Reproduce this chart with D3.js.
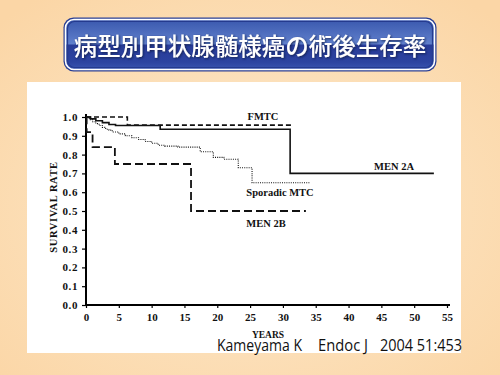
<!DOCTYPE html>
<html>
<head>
<meta charset="utf-8">
<script src="https://cdn.jsdelivr.net/npm/d3@7"></script>
<style>
  body { margin: 0; padding: 0; overflow: hidden; }
</style>
</head>
<body>
<div id="chart"></div>
<script>
var width = 500,
    height = 375;

var serif = "'Liberation Serif', 'DejaVu Serif', serif";

// survival curves, years / survival rate (step after)
var men2aYears = [0, 0.7, 1.5, 2.5, 3.5, 4.5, 11.3, 31.1, 53];
var men2aRate  = [1.0, 0.99, 0.98, 0.97, 0.96, 0.955, 0.935, 0.70, 0.70];

var fmtcYears = [0, 6.3, 31.5];
var fmtcRate  = [1.0, 0.957, 0.957];

var sporadicYears = [0, 0.5, 1, 1.5, 2, 2.5, 3, 3.5, 4, 5, 6, 7, 8, 9, 10, 11, 12, 14, 17.4, 19.4, 21, 23.2, 25.3, 34.1];
var sporadicRate  = [1.0, 0.985, 0.975, 0.965, 0.955, 0.945, 0.935, 0.93, 0.92, 0.91, 0.90, 0.89, 0.88, 0.87, 0.86, 0.85, 0.845, 0.84, 0.815, 0.785, 0.775, 0.73, 0.65, 0.65];

var men2bYears = [0, 0.1, 1.0, 4.4, 16, 33.5];
var men2bRate  = [1.0, 0.92, 0.84, 0.75, 0.50, 0.50];

var xTicks = [0, 5, 10, 15, 20, 25, 30, 35, 40, 45, 50, 55];
var yTicks = [0, 0.1, 0.2, 0.3, 0.4, 0.5, 0.6, 0.7, 0.8, 0.9, 1.0];

var title = "病型別甲状腺髄様癌の術後生存率";
var citation = ["Kameyama K", "Endoc J", "2004 51:453"];

var svg = d3.select("#chart").append("svg")
  .attr("width", width)
  .attr("height", height);

var defs = svg.append("defs");

var bg = defs.append("radialGradient")
  .attr("id", "bg")
  .attr("cx", "50%").attr("cy", "55%").attr("r", "70%");
bg.append("stop").attr("offset", "0%").attr("stop-color", "#fde9cc");
bg.append("stop").attr("offset", "100%").attr("stop-color", "#fbd6a6");

var boxGrad = defs.append("linearGradient")
  .attr("id", "box").attr("x1", 0).attr("y1", 0).attr("x2", 0).attr("y2", 1);
boxGrad.append("stop").attr("offset", "0%").attr("stop-color", "#3a58ae");
boxGrad.append("stop").attr("offset", "48%").attr("stop-color", "#5f7fcb");
boxGrad.append("stop").attr("offset", "52%").attr("stop-color", "#283c98");
boxGrad.append("stop").attr("offset", "85%").attr("stop-color", "#2c43a0");
boxGrad.append("stop").attr("offset", "100%").attr("stop-color", "#3a55b0");

var shadow = defs.append("filter").attr("id", "shadow")
  .attr("x", "-5%").attr("y", "-20%").attr("width", "110%").attr("height", "140%");
shadow.append("feDropShadow")
  .attr("dx", 1).attr("dy", 1).attr("stdDeviation", 0.8)
  .attr("flood-color", "#0a1540").attr("flood-opacity", 0.8);

svg.append("rect")
  .attr("width", width).attr("height", height)
  .attr("fill", "url(#bg)");

// title box
svg.append("rect")
  .attr("x", 63.5).attr("y", 17.5).attr("width", 373).attr("height", 54)
  .attr("rx", 10)
  .attr("fill", "#2b3f93");
svg.append("rect")
  .attr("x", 65.5).attr("y", 19.5).attr("width", 369).attr("height", 50)
  .attr("rx", 8.5)
  .attr("fill", "url(#box)")
  .attr("stroke", "#ffffff")
  .attr("stroke-width", 1.6);
svg.append("rect")
  .attr("x", 67.5).attr("y", 21.5).attr("width", 365).attr("height", 46)
  .attr("rx", 7)
  .attr("fill", "none")
  .attr("stroke", "#243a8e")
  .attr("stroke-width", 1.2);

svg.append("text")
  .attr("x", 250).attr("y", 55)
  .attr("text-anchor", "middle")
  .attr("font-family", "'Noto Sans CJK JP', 'Noto Sans CJK SC', sans-serif")
  .attr("font-weight", 500)
  .attr("font-size", 23.5)
  .attr("fill", "#ffffff")
  .attr("filter", "url(#shadow)")
  .text(title);

// white figure panel
svg.append("rect")
  .attr("x", 27).attr("y", 82).attr("width", 434).attr("height", 271)
  .attr("fill", "#ffffff");

var x = d3.scaleLinear().domain([0, 55]).range([86, 447]);
var y = d3.scaleLinear().domain([0, 1]).range([305, 117]);

var xAxis = svg.append("g")
  .attr("transform", "translate(0,305)")
  .call(d3.axisBottom(x).tickValues(xTicks).tickSize(3).tickSizeOuter(0).tickPadding(5));
xAxis.select(".domain").attr("d", "M86,0H450").attr("stroke-width", 2);

var yAxis = svg.append("g")
  .attr("transform", "translate(86,0)")
  .call(d3.axisLeft(y).tickValues(yTicks).tickSize(4).tickSizeOuter(0).tickPadding(4)
    .tickFormat(d3.format(".1f")));
yAxis.select(".domain").attr("d", "M0,306V114").attr("stroke-width", 2);

[xAxis, yAxis].forEach(function(ax) {
  ax.attr("font-family", serif)
    .attr("font-weight", "bold")
    .attr("font-size", 11);
  ax.selectAll(".tick line").attr("stroke-width", 1.2);
  ax.selectAll(".tick text").attr("fill", "#111");
});
yAxis.selectAll(".tick text").attr("letter-spacing", 0.6);

// axis titles
svg.append("text")
  .attr("transform", "translate(57,207) rotate(-90)")
  .attr("text-anchor", "middle")
  .attr("font-family", serif)
  .attr("font-weight", "bold")
  .attr("font-size", 10.5)
  .attr("letter-spacing", 0.6)
  .attr("fill", "#111")
  .text("SURVIVAL RATE");

svg.append("text")
  .attr("x", 268).attr("y", 337.5)
  .attr("text-anchor", "middle")
  .attr("font-family", serif)
  .attr("font-weight", "bold")
  .attr("font-size", 9.5)
  .attr("fill", "#111")
  .text("YEARS");

// curves
var line = d3.line()
  .curve(d3.curveStepAfter)
  .x(function(d) { return x(d[0]); })
  .y(function(d) { return y(d[1]); });

var curves = [
  { years: men2aYears, rate: men2aRate, width: 1.6, dash: null },
  { years: fmtcYears, rate: fmtcRate, width: 1.6, dash: "5,3" },
  { years: sporadicYears, rate: sporadicRate, width: 1.1, dash: "1,1.2" },
  { years: men2bYears, rate: men2bRate, width: 1.8, dash: "8,4" }
];

svg.append("g").selectAll("path")
  .data(curves)
  .enter()
  .append("path")
  .attr("d", function(c) {
    return line(c.years.map(function(t, i) { return [t, c.rate[i]]; }));
  })
  .attr("fill", "none")
  .attr("stroke", "#111")
  .attr("stroke-width", function(c) { return c.width; })
  .attr("stroke-dasharray", function(c) { return c.dash; });

// curve labels
var labels = [
  { text: "FMTC", x: 263, y: 120 },
  { text: "MEN 2A", x: 394, y: 170 },
  { text: "Sporadic MTC", x: 280, y: 196 },
  { text: "MEN 2B", x: 266, y: 227 }
];
svg.append("g").selectAll("text")
  .data(labels)
  .enter()
  .append("text")
  .attr("x", function(d) { return d.x; })
  .attr("y", function(d) { return d.y; })
  .attr("text-anchor", "middle")
  .attr("font-family", serif)
  .attr("font-weight", "bold")
  .attr("font-size", 10.5)
  .attr("fill", "#111")
  .text(function(d) { return d.text; });

// citation
var citeX = [217, 318, 380];
var citeW = [85, 50, 82];
svg.append("g").selectAll("text")
  .data(citation)
  .enter()
  .append("text")
  .attr("x", function(d, i) { return citeX[i]; })
  .attr("y", 350.5)
  .attr("font-family", "'Open Sans', 'Liberation Sans', sans-serif")
  .attr("font-size", 15.5)
  .attr("textLength", function(d, i) { return citeW[i]; })
  .attr("lengthAdjust", "spacingAndGlyphs")
  .attr("fill", "#111")
  .text(function(d) { return d; });
</script>
</body>
</html>
